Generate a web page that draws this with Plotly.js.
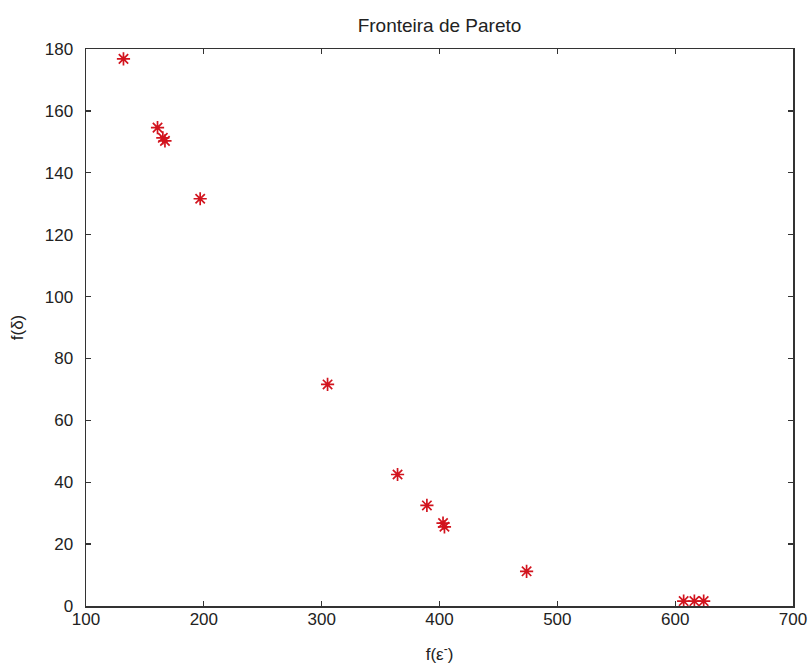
<!DOCTYPE html>
<html>
<head>
<meta charset="utf-8">
<script src="https://cdn.plot.ly/plotly-3.0.1.min.js"></script>
<style>html,body{margin:0;padding:0;background:#fff;}#chart{width:811px;height:670px;}</style>
</head>
<body>
<div id="chart"></div>
<script>
// f(ε⁻) values (x) and f(δ) values (y) of the Pareto front points
var fEps = [131.8, 160.7, 165.2, 167.0, 196.9, 305.0, 364.4, 389.3, 403.0, 404.2, 473.9, 607.2, 616.3, 624.2];
var fDelta = [176.8, 154.6, 151.3, 150.3, 131.6, 71.6, 42.5, 32.5, 26.8, 25.6, 11.2, 1.6, 1.6, 1.6];
var xTicks = [100, 200, 300, 400, 500, 600, 700];
var yTicks = [0, 20, 40, 60, 80, 100, 120, 140, 160, 180];

var font = {family: 'Liberation Sans, Arial, sans-serif', size: 17, color: '#222'};

var trace = {
  x: fEps, y: fDelta, type: 'scatter', mode: 'markers',
  marker: {symbol: 'asterisk-open', size: 11, color: 'rgb(210,20,30)',
           line: {color: 'rgb(210,20,30)', width: 1.7}},
  hoverinfo: 'x+y'
};

var axisCommon = {
  showgrid: false, zeroline: false, showline: true, linecolor: '#333', linewidth: 1.5,
  mirror: 'ticks', ticks: 'inside', ticklen: 5, tickwidth: 1.3, tickcolor: '#333',
  tickfont: font
};

var layout = {
  width: 811, height: 670,
  margin: {l: 86, r: 18, t: 49, b: 64, pad: 0},
  paper_bgcolor: '#fff', plot_bgcolor: '#fff',
  showlegend: false,
  title: {text: 'Fronteira de Pareto', font: {family: font.family, size: 19, color: '#222'},
          x: 0.5, xref: 'paper', xanchor: 'center', y: 1, yref: 'container', yanchor: 'top', pad: {t: 19}},
  xaxis: Object.assign({}, axisCommon, {
    range: [100, 700], tickvals: xTicks, ticktext: xTicks.map(String),
    ticklabelstandoff: -3,
    title: {text: 'f(ε<sup>-</sup>)', font: font, standoff: 20}
  }),
  yaxis: Object.assign({}, axisCommon, {
    range: [0, 180], tickvals: yTicks, ticktext: yTicks.map(String),
    ticklabelstandoff: 8,
    title: {text: 'f(δ)', font: font, standoff: 17}
  })
};

Plotly.newPlot('chart', [trace], layout, {displayModeBar: false, staticPlot: true});
</script>
</body>
</html>
